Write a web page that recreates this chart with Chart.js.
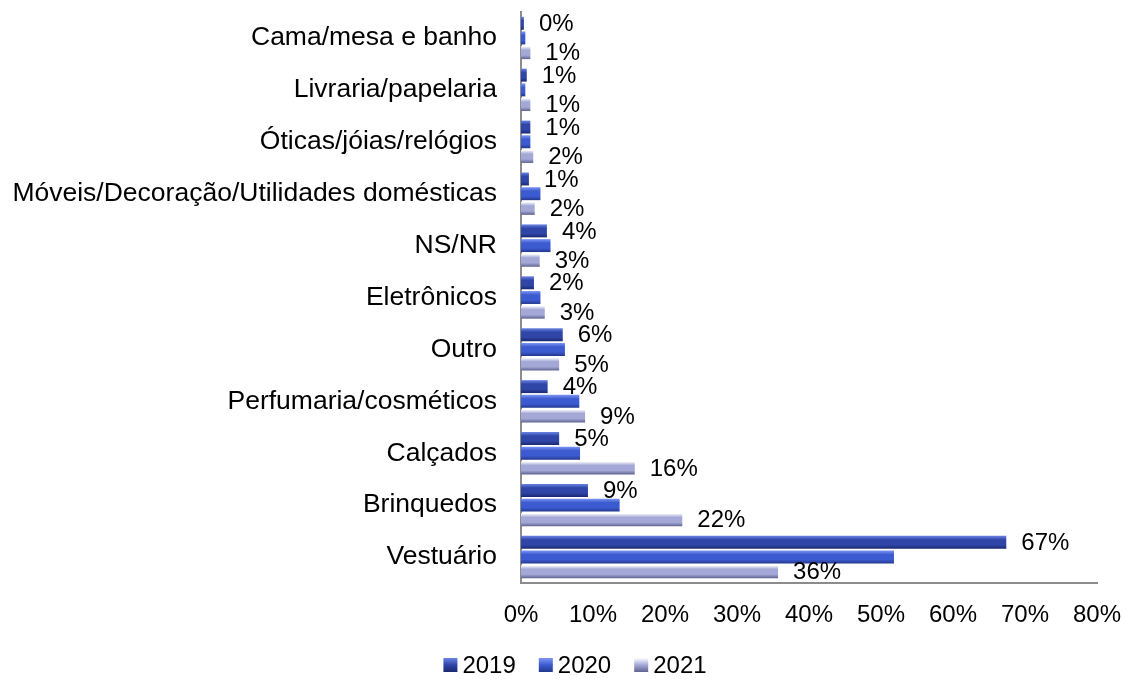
<!DOCTYPE html>
<html lang="pt-BR">
<head>
  <meta charset="UTF-8">
  <title>Categorias de compra 2019-2021</title>
  <script src="https://cdn.jsdelivr.net/npm/chart.js"></script>
  <style>
    html, body { margin: 0; padding: 0; background: #fff; }
    #wrap { width: 1126px; height: 679px; }
  </style>
</head>
<body>
<div id="wrap"><canvas id="chart"></canvas></div>
<script>
  // categorias (de cima para baixo)
  const categorias = [
    'Cama/mesa e banho', 'Livraria/papelaria', 'Óticas/jóias/relógios',
    'Móveis/Decoração/Utilidades domésticas', 'NS/NR', 'Eletrônicos', 'Outro',
    'Perfumaria/cosméticos', 'Calçados', 'Brinquedos', 'Vestuário'
  ];
  const anos = ['2019', '2020', '2021'];

  // valores em %
  const v2019 = [0.4, 0.8, 1.3, 1.1, 3.6, 1.8, 5.8, 3.7, 5.3, 9.3, 67.4];
  const v2020 = [0.6, 0.6, 1.3, 2.7, 4.1, 2.7, 6.1, 8.1, 8.2, 13.7, 51.8];
  const v2021 = [1.3, 1.3, 1.7, 1.9, 2.6, 3.3, 5.3, 8.9, 15.8, 22.4, 35.7];

  const xTicks = [0, 10, 20, 30, 40, 50, 60, 70, 80];

  // cores: topo claro, meio, base escura (efeito bisel)
  const cores = [
    ['#6a84e4', '#2f46a8', '#1b2870'],
    ['#7c96f4', '#3d5bd0', '#22388e'],
    ['#ffffff', '#a3a8d6', '#5e6390']
  ];
  const coresLegenda = ['#2f45a2', '#3a57cc', '#9a9fcb'];

  // séries com rótulo de valor
  const comRotulo = [0, 2];

  const FONT = { family: 'Arial, "Liberation Sans", sans-serif', size: 24 };
  const FONT_CAT = { family: FONT.family, size: 26.5 };

  // gradiente por barra (cada barra recebe o seu próprio objeto de opções)
  const bisel = {
    id: 'bisel',
    beforeDatasetsDraw(chart) {
      const ctx = chart.ctx;
      chart.data.datasets.forEach((ds, i) => {
        chart.getDatasetMeta(i).data.forEach(bar => {
          const top = bar.y - bar.height / 2, bot = bar.y + bar.height / 2;
          const g = ctx.createLinearGradient(0, top, 0, bot);
          g.addColorStop(0, cores[i][0]);
          g.addColorStop(0.3, cores[i][1]);
          g.addColorStop(0.7, cores[i][1]);
          g.addColorStop(1, cores[i][2]);
          const o = Object.create(bar.options);
          o.backgroundColor = g;
          bar.options = o;
        });
      });
    }
  };

  // rótulos de valor (só 2019 e 2021)
  const rotulos = {
    id: 'rotulos',
    afterDatasetsDraw(chart) {
      const ctx = chart.ctx;
      ctx.save();
      ctx.font = FONT.size + 'px ' + FONT.family;
      ctx.fillStyle = '#000';
      ctx.textAlign = 'left';
      ctx.textBaseline = 'middle';
      comRotulo.forEach(i => {
        const ds = chart.data.datasets[i];
        chart.getDatasetMeta(i).data.forEach((bar, j) => {
          ctx.fillText(Math.round(ds.data[j]) + '%', bar.x + 15, bar.y + 1);
        });
      });
      ctx.restore();
    }
  };

  // legenda desenhada à mão (caixa 14px, texto colado)
  const legenda = {
    id: 'legenda',
    afterDraw(chart) {
      const ctx = chart.ctx;
      ctx.save();
      ctx.font = FONT.size + 'px ' + FONT.family;
      ctx.textBaseline = 'middle';
      ctx.textAlign = 'left';
      const box = 14, gap = 5, between = 23, cy = 665;
      const widths = anos.map(a => ctx.measureText(a).width);
      const total = widths.reduce((s, w) => s + box + gap + w, 0) + between * (anos.length - 1);
      let x = 575 - total / 2;
      anos.forEach((a, i) => {
        const g = ctx.createLinearGradient(0, cy - box / 2, 0, cy + box / 2);
        g.addColorStop(0, cores[i][0]);
        g.addColorStop(0.5, cores[i][1]);
        g.addColorStop(1, cores[i][2]);
        ctx.fillStyle = g;
        ctx.fillRect(x, cy - box / 2, box, box);
        ctx.fillStyle = '#000';
        ctx.fillText(a, x + box + gap, cy + 1);
        x += box + gap + widths[i] + between;
      });
      ctx.restore();
    }
  };

  const series = [v2019, v2020, v2021];

  new Chart(document.getElementById('chart'), {
    type: 'bar',
    data: {
      labels: categorias,
      datasets: anos.map((a, i) => ({
        label: a,
        data: series[i],
        backgroundColor: coresLegenda[i],
        borderWidth: 0,
        categoryPercentage: 0.85,
        barPercentage: 0.88
      }))
    },
    plugins: [bisel, rotulos, legenda],
    options: {
      indexAxis: 'y',
      responsive: true,
      maintainAspectRatio: false,
      animation: false,
      layout: { padding: { top: 12, right: 29, left: 0, bottom: 36 } },
      plugins: {
        legend: { display: false },
        tooltip: { enabled: false }
      },
      scales: {
        x: {
          min: 0,
          max: 80,
          afterBuildTicks: s => { s.ticks = xTicks.map(v => ({ value: v })); },
          grid: { display: false, drawTicks: false },
          border: { display: true, color: '#8c8c8c', width: 2 },
          ticks: { color: '#000', font: FONT, padding: 18, callback: v => v + '%' },
          afterFit: s => { s.height = 60; s.paddingLeft = 0; s.paddingRight = 0; }
        },
        y: {
          grid: { display: false, drawTicks: false },
          border: { display: true, color: '#8c8c8c', width: 2 },
          ticks: { color: '#000', font: FONT_CAT, padding: 24, autoSkip: false },
          afterFit: s => { s.width = 521; s.paddingTop = 0; s.paddingBottom = 0; }
        }
      }
    }
  });
</script>
</body>
</html>
